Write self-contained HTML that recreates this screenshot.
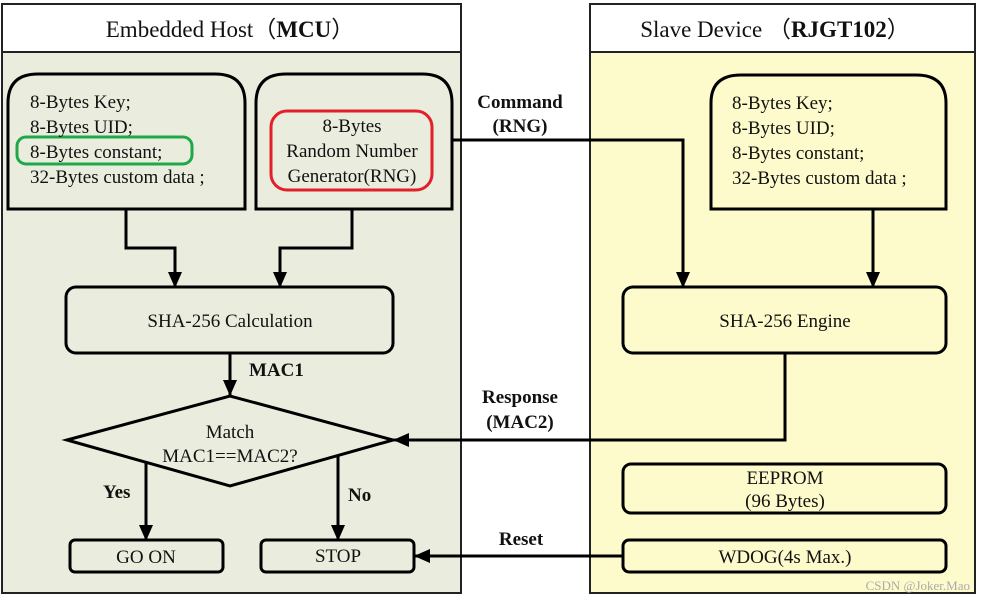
<!DOCTYPE html>
<html><head><meta charset="utf-8"><style>
body{margin:0;background:#fff}
svg, svg text{font-family:"Liberation Serif","Times New Roman",serif}
</style></head><body>
<svg width="985" height="601" viewBox="0 0 985 601" xmlns="http://www.w3.org/2000/svg" font-family="Liberation Serif, serif" fill="#111">
<defs><marker id="a" markerWidth="16" markerHeight="14" refX="15" refY="7" orient="auto" markerUnits="userSpaceOnUse"><path d="M0,0 L16,7 L0,14 z" fill="#000"/></marker>
<marker id="b" markerWidth="16" markerHeight="14" refX="15" refY="7" orient="auto" markerUnits="userSpaceOnUse"><path d="M0,0 L16,7 L0,14 z" fill="#000"/></marker></defs>
<rect x="2" y="4" width="459" height="589" fill="#eaedde" stroke="#222" stroke-width="2"/>
<rect x="2" y="4" width="459" height="48" fill="#fff" stroke="#222" stroke-width="2"/>
<text x="230" y="37" font-size="23" text-anchor="middle" font-family="Liberation Serif, Noto Serif CJK SC, serif">Embedded Host（<tspan font-weight="bold">MCU</tspan>）</text>
<rect x="590" y="4" width="385" height="589" fill="#fdfbcc" stroke="#222" stroke-width="2"/>
<rect x="590" y="4" width="385" height="48" fill="#fff" stroke="#222" stroke-width="2"/>
<text x="775" y="37" font-size="23" text-anchor="middle" font-family="Liberation Serif, Noto Serif CJK SC, serif">Slave Device （<tspan font-weight="bold">RJGT102</tspan>）</text>
<g fill="none" stroke="#000" stroke-width="3">
<path d="M8,209 V103 Q8,74 38,74 H215 Q245,74 245,103 V209 Z"/>
<path d="M256,209 V103 Q256,74 286,74 H422 Q452,74 452,103 V209 Z"/>
<path d="M711,209 V103 Q711,75 741,75 H916 Q946,75 946,103 V209 Z"/>
<rect x="66" y="287" width="327" height="66" rx="10"/>
<rect x="623" y="287" width="323" height="66" rx="10"/>
<rect x="623" y="464" width="323" height="49" rx="8"/>
<rect x="623" y="540" width="323" height="32" rx="6"/>
<rect x="70" y="540" width="153" height="32" rx="5"/>
<rect x="261" y="540" width="153" height="32" rx="5"/>
<path d="M67,440 L230,396 L393,440 L230,486 Z"/>
</g>
<rect x="271" y="111" width="161" height="79" rx="16" fill="none" stroke="#e3202a" stroke-width="3"/>
<rect x="17" y="137" width="175" height="27" rx="9" fill="none" stroke="#1fa84a" stroke-width="3"/>
<g fill="none" stroke="#000" stroke-width="3">
<path d="M126,209 V248 H175 V287" marker-end="url(#a)"/>
<path d="M352,209 V248 H280 V287" marker-end="url(#a)"/>
<path d="M230,353 V395" marker-end="url(#a)"/>
<path d="M146,463 V540" marker-end="url(#a)"/>
<path d="M338,456 V540" marker-end="url(#a)"/>
<path d="M452,140 H683 V287" marker-end="url(#a)"/>
<path d="M873,209 V287" marker-end="url(#a)"/>
<path d="M785,353 V440 H394" marker-end="url(#b)"/>
<path d="M623,556 H415" marker-end="url(#b)"/>
</g>
<g font-size="19">
<text x="30" y="108">8-Bytes Key;</text>
<text x="30" y="133">8-Bytes UID;</text>
<text x="30" y="158">8-Bytes constant;</text>
<text x="30" y="183">32-Bytes custom data ;</text>
<text x="352" y="132" text-anchor="middle">8-Bytes</text>
<text x="352" y="157" text-anchor="middle">Random Number</text>
<text x="352" y="182" text-anchor="middle">Generator(RNG)</text>
<text x="732" y="109">8-Bytes Key;</text>
<text x="732" y="134">8-Bytes UID;</text>
<text x="732" y="159">8-Bytes constant;</text>
<text x="732" y="184">32-Bytes custom data ;</text>
<text x="230" y="327" text-anchor="middle">SHA-256 Calculation</text>
<text x="785" y="327" text-anchor="middle">SHA-256 Engine</text>
<text x="230" y="438" text-anchor="middle">Match</text>
<text x="230" y="462" text-anchor="middle">MAC1==MAC2?</text>
<text x="146" y="563" text-anchor="middle">GO ON</text>
<text x="338" y="562" text-anchor="middle">STOP</text>
<text x="785" y="484" text-anchor="middle">EEPROM</text>
<text x="785" y="507" text-anchor="middle">(96 Bytes)</text>
<text x="785" y="563" text-anchor="middle">WDOG(4s Max.)</text>
</g>
<g font-size="19" font-weight="bold">
<text x="249" y="376">MAC1</text>
<text x="103" y="498">Yes</text>
<text x="348" y="501">No</text>
<text x="520" y="108" text-anchor="middle">Command</text>
<text x="520" y="132" text-anchor="middle">(RNG)</text>
<text x="520" y="403" text-anchor="middle">Response</text>
<text x="520" y="428" text-anchor="middle">(MAC2)</text>
<text x="521" y="545" text-anchor="middle">Reset</text>
</g>
<text x="970" y="590" font-size="13" text-anchor="end" font-family="Liberation Sans, sans-serif" fill="#aaa">CSDN @Joker.Mao</text>
</svg>
</body></html>
